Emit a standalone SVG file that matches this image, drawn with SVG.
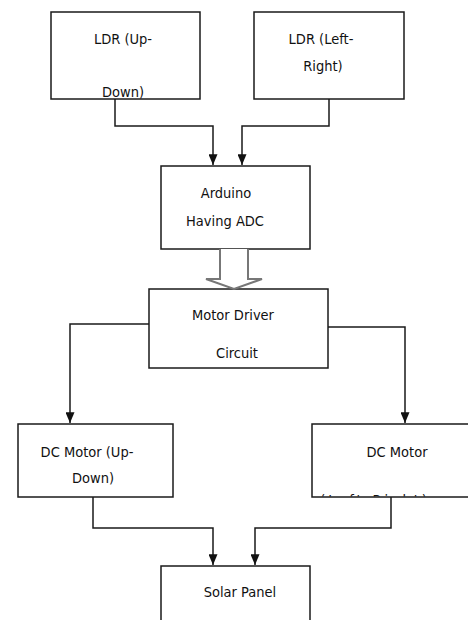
<svg xmlns="http://www.w3.org/2000/svg" width="468" height="620" viewBox="0 0 468 620">
<style>
.box{fill:#fff;stroke:#1a1a1a;stroke-width:1.5}
.t{font-family:"DejaVu Sans Condensed","DejaVu Sans",sans-serif;font-stretch:condensed;font-size:14.5px;fill:#111;text-anchor:middle}
.c{fill:none;stroke:#1a1a1a;stroke-width:1.5}
</style>
<defs>
<marker id="ad" viewBox="0 0 10 12" refX="5" refY="12" markerWidth="9" markerHeight="11" markerUnits="userSpaceOnUse" orient="0">
<path d="M0,0 L10,0 L5,12 Z" fill="#111"/>
</marker>
<clipPath id="clipR"><rect x="312" y="424" width="160" height="72.5"/></clipPath>
</defs>
<rect width="468" height="620" fill="#fff"/>
<g id="ldr-ud">
<rect class="box" x="51" y="12" width="149" height="87"/>
<text class="t" x="123" y="44">LDR (Up-</text>
<text class="t" x="123" y="97">Down)</text>
</g>
<g id="ldr-lr">
<rect class="box" x="254" y="12" width="150" height="87"/>
<text class="t" x="321" y="44">LDR (Left-</text>
<text class="t" x="323" y="71">Right)</text>
</g>
<g id="arduino">
<rect class="box" x="161" y="166" width="149" height="83"/>
<text class="t" x="226" y="198">Arduino</text>
<text class="t" x="225" y="226">Having ADC</text>
</g>
<g id="driver">
<rect class="box" x="149" y="289" width="179" height="79"/>
<text class="t" x="233" y="320">Motor Driver</text>
<text class="t" x="237" y="358">Circuit</text>
</g>
<g id="dc-ud">
<rect class="box" x="18" y="424" width="155" height="73"/>
<text class="t" x="87" y="457">DC Motor (Up-</text>
<text class="t" x="93" y="483">Down)</text>
</g>
<g id="dc-lr">
<rect class="box" x="312" y="424" width="160" height="73"/>
<text class="t" x="397" y="457">DC Motor</text>
<text class="t" x="375" y="505" clip-path="url(#clipR)" style="letter-spacing:3px">(Left-Right)</text>
</g>
<g id="solar">
<rect class="box" x="161" y="566" width="149" height="60"/>
<text class="t" x="240" y="597">Solar Panel</text>
</g>
<g id="connectors">
<polyline class="c" points="115,99 115,126 213,126 213,165" marker-end="url(#ad)"/>
<polyline class="c" points="329,99 329,126 242,126 242,165" marker-end="url(#ad)"/>
<path d="M220,249 V279 H206 L234,289 L262,279 H248 V249" fill="#fff" stroke="#777" stroke-width="2"/>
<polyline class="c" points="149,324 70,324 70,423" marker-end="url(#ad)"/>
<polyline class="c" points="328,327 405,327 405,423" marker-end="url(#ad)"/>
<polyline class="c" points="93,497 93,528 213,528 213,565" marker-end="url(#ad)"/>
<polyline class="c" points="391,497 391,528 255,528 255,565" marker-end="url(#ad)"/>
</g>
</svg>
